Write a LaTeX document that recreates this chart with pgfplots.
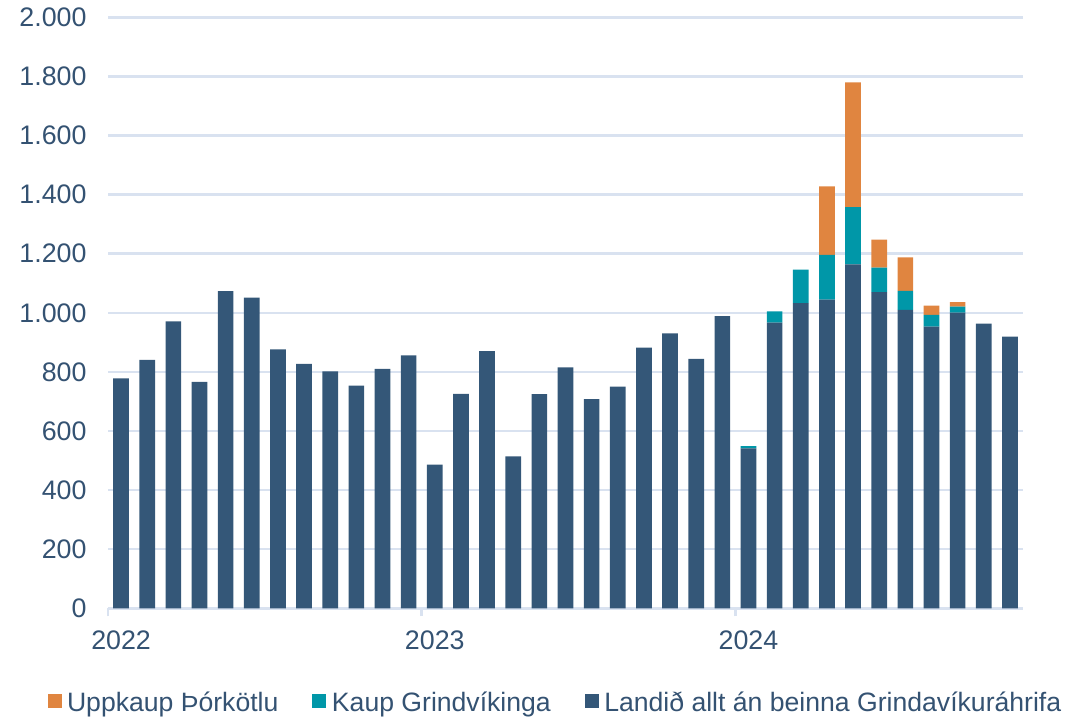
\documentclass[border=0pt]{standalone}
\usepackage{fontspec}
\setmainfont{Liberation Sans}
\usepackage{pgfplots}
\pgfplotsset{compat=1.18}
\definecolor{cdark}{RGB}{52,87,120}
\definecolor{cteal}{RGB}{0,151,168}
\definecolor{corange}{RGB}{224,133,64}
\definecolor{cgrid}{RGB}{217,226,240}
\definecolor{ctext}{RGB}{52,82,114}
\begin{document}
\begin{tikzpicture}
\useasboundingbox (0pt,0pt) rectangle (1081pt,-718pt);
\begin{axis}[
  at={(108pt,-608.3pt)}, anchor=south west,
  scale only axis, width=915pt, height=591pt,
  xmin=-0.5, xmax=34.5, ymin=0, ymax=2000,
  ybar stacked, bar width=0.6,
  ytick={0,200,...,2000},
  ymajorgrids, grid style={color=cgrid, line width=2.5pt},
  axis x line*=bottom, axis y line*=left,
  y axis line style={draw=none},
  x axis line style={color=cgrid, line width=3pt},
  xtick={0,12,24}, xticklabels={2022,2023,2024},
  major tick length=0pt, tick align=outside,
  tick style={color=cgrid, line width=2.5pt},
  extra x ticks={-0.5,11.5,23.5}, extra x tick labels={},
  extra x tick style={major tick length=8pt, grid=none},
  /pgf/number format/assume math mode=true,
  /pgf/number format/1000 sep={.},
  ticklabel style={font=\fontsize{26.8}{32}\selectfont, text=ctext},
  yticklabel style={xshift=-18pt},
  xticklabel style={yshift=-19pt},
  legend columns=3,
  reverse legend,
  legend style={draw=none, fill=none, inner sep=0pt, anchor=west,
    at={(-0.0663,-0.1597)},
    font=\fontsize{26.6}{32}\selectfont, text=ctext,
    nodes={inner sep=0pt},
    /tikz/every odd column/.append style={column sep=5.5pt},
    /tikz/every even column/.append style={column sep=34pt}},
  legend image code/.code={\fill[#1] (0pt,-5.5pt) rectangle (14pt,8.5pt);},
]
\addplot[fill=cdark, draw=none] coordinates {
(0,778) (1,841) (2,971) (3,766) (4,1073) (5,1051) (6,876) (7,827) (8,802) (9,754) (10,810) (11,856)
(12,486) (13,726) (14,870) (15,514) (16,725) (17,815) (18,708) (19,750) (20,882) (21,930) (22,844) (23,989)
(24,541) (25,967) (26,1033) (27,1045) (28,1164) (29,1070) (30,1010) (31,953) (32,1001) (33,963) (34,919)};
\addlegendentry{Landið allt án beinna Grindavíkuráhrifa}
\addplot[fill=cteal, draw=none] coordinates {
(0,0) (1,0) (2,0) (3,0) (4,0) (5,0) (6,0) (7,0) (8,0) (9,0) (10,0) (11,0)
(12,0) (13,0) (14,0) (15,0) (16,0) (17,0) (18,0) (19,0) (20,0) (21,0) (22,0) (23,0)
(24,8) (25,38) (26,113) (27,151) (28,194) (29,83) (30,64) (31,40) (32,20) (33,0) (34,0)};
\addlegendentry{Kaup Grindvíkinga}
\addplot[fill=corange, draw=none] coordinates {
(0,0) (1,0) (2,0) (3,0) (4,0) (5,0) (6,0) (7,0) (8,0) (9,0) (10,0) (11,0)
(12,0) (13,0) (14,0) (15,0) (16,0) (17,0) (18,0) (19,0) (20,0) (21,0) (22,0) (23,0)
(24,0) (25,0) (26,0) (27,232) (28,422) (29,95) (30,114) (31,31) (32,15) (33,0) (34,0)};
\addlegendentry{Uppkaup Þórkötlu}
\end{axis}
\end{tikzpicture}
\end{document}
